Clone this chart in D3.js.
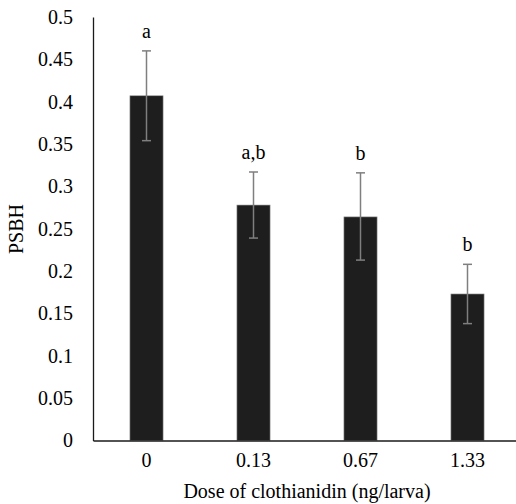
<!DOCTYPE html>
<html>
<head>
<script src="https://d3js.org/d3.v7.min.js"></script>
<style>
  body { margin: 0; background: #fff; }
  text { font-family: "Liberation Serif", "Times New Roman", serif; fill: #000; }
</style>
</head>
<body>
<script>
  var doses = ['0', '0.13', '0.67', '1.33'];
  var means = [0.407, 0.278, 0.264, 0.173];
  var errUpper = [0.460, 0.317, 0.316, 0.208];
  var errLower = [0.354, 0.239, 0.213, 0.138];
  var letters = ['a', 'a,b', 'b', 'b'];
  var yTicks = [0, 0.05, 0.1, 0.15, 0.2, 0.25, 0.3, 0.35, 0.4, 0.45, 0.5];

  var width = 516, height = 504;
  var plotLeft = 93, plotRight = 521, plotTop = 17, plotBottom = 440.5;

  var svg = d3.select('body').append('svg')
    .attr('width', width)
    .attr('height', height);

  var x = d3.scaleBand().domain(doses)
    .range([plotLeft, plotRight])
    .paddingInner(0.69)
    .paddingOuter(0.345);

  var y = d3.scaleLinear().domain([0, 0.5]).range([plotBottom, plotTop]);

  // bars
  svg.selectAll('rect.bar')
    .data(doses)
    .enter().append('rect')
    .attr('class', 'bar')
    .attr('x', function(d) { return x(d); })
    .attr('width', x.bandwidth())
    .attr('y', function(d, i) { return y(means[i]); })
    .attr('height', function(d, i) { return y(0) - y(means[i]); })
    .attr('fill', '#1e1e1e')
    .attr('stroke', '#9a9a9a')
    .attr('stroke-width', 0.6);

  // error bars
  var eb = svg.selectAll('g.err')
    .data(doses)
    .enter().append('g')
    .attr('class', 'err')
    .attr('stroke', '#7f7f7f')
    .attr('stroke-width', 1.5);

  eb.append('line')
    .attr('x1', function(d) { return x(d) + x.bandwidth() / 2; })
    .attr('x2', function(d) { return x(d) + x.bandwidth() / 2; })
    .attr('y1', function(d, i) { return y(errUpper[i]); })
    .attr('y2', function(d, i) { return y(errLower[i]); });
  [errUpper, errLower].forEach(function(arr) {
    eb.append('line')
      .attr('x1', function(d) { return x(d) + x.bandwidth() / 2 - 4.5; })
      .attr('x2', function(d) { return x(d) + x.bandwidth() / 2 + 4.5; })
      .attr('y1', function(d, i) { return y(arr[i]); })
      .attr('y2', function(d, i) { return y(arr[i]); });
  });

  // significance letters
  svg.selectAll('text.letter')
    .data(doses)
    .enter().append('text')
    .attr('class', 'letter')
    .attr('x', function(d) { return x(d) + x.bandwidth() / 2; })
    .attr('y', function(d, i) { return y(errUpper[i]) - 13; })
    .attr('text-anchor', 'middle')
    .style('font-size', '20px')
    .text(function(d, i) { return letters[i]; });

  // axes
  var yAxis = d3.axisLeft(y).tickValues(yTicks).tickSize(0).tickPadding(20)
    .tickFormat(function(d) { return String(+d.toFixed(2)); });
  var gy = svg.append('g')
    .attr('transform', 'translate(' + plotLeft + ',0)')
    .call(yAxis);
  gy.select('.domain').attr('stroke', '#1a1a1a').attr('stroke-width', 1.3);
  gy.selectAll('text').style('font-size', '20px').style('font-family', '"Liberation Serif", serif');

  var xAxis = d3.axisBottom(x).tickSize(0).tickPadding(12);
  var gx = svg.append('g')
    .attr('transform', 'translate(0,' + plotBottom + ')')
    .call(xAxis);
  gx.select('.domain').attr('stroke', '#1a1a1a').attr('stroke-width', 1.3);
  gx.selectAll('text').style('font-size', '20px').style('font-family', '"Liberation Serif", serif');

  // axis titles
  svg.append('text')
    .attr('x', 307)
    .attr('y', 498)
    .attr('text-anchor', 'middle')
    .style('font-size', '20px')
    .text('Dose of clothianidin (ng/larva)');

  svg.append('text')
    .attr('transform', 'translate(23,229) rotate(-90)')
    .attr('text-anchor', 'middle')
    .style('font-size', '20px')
    .text('PSBH');
</script>
</body>
</html>
